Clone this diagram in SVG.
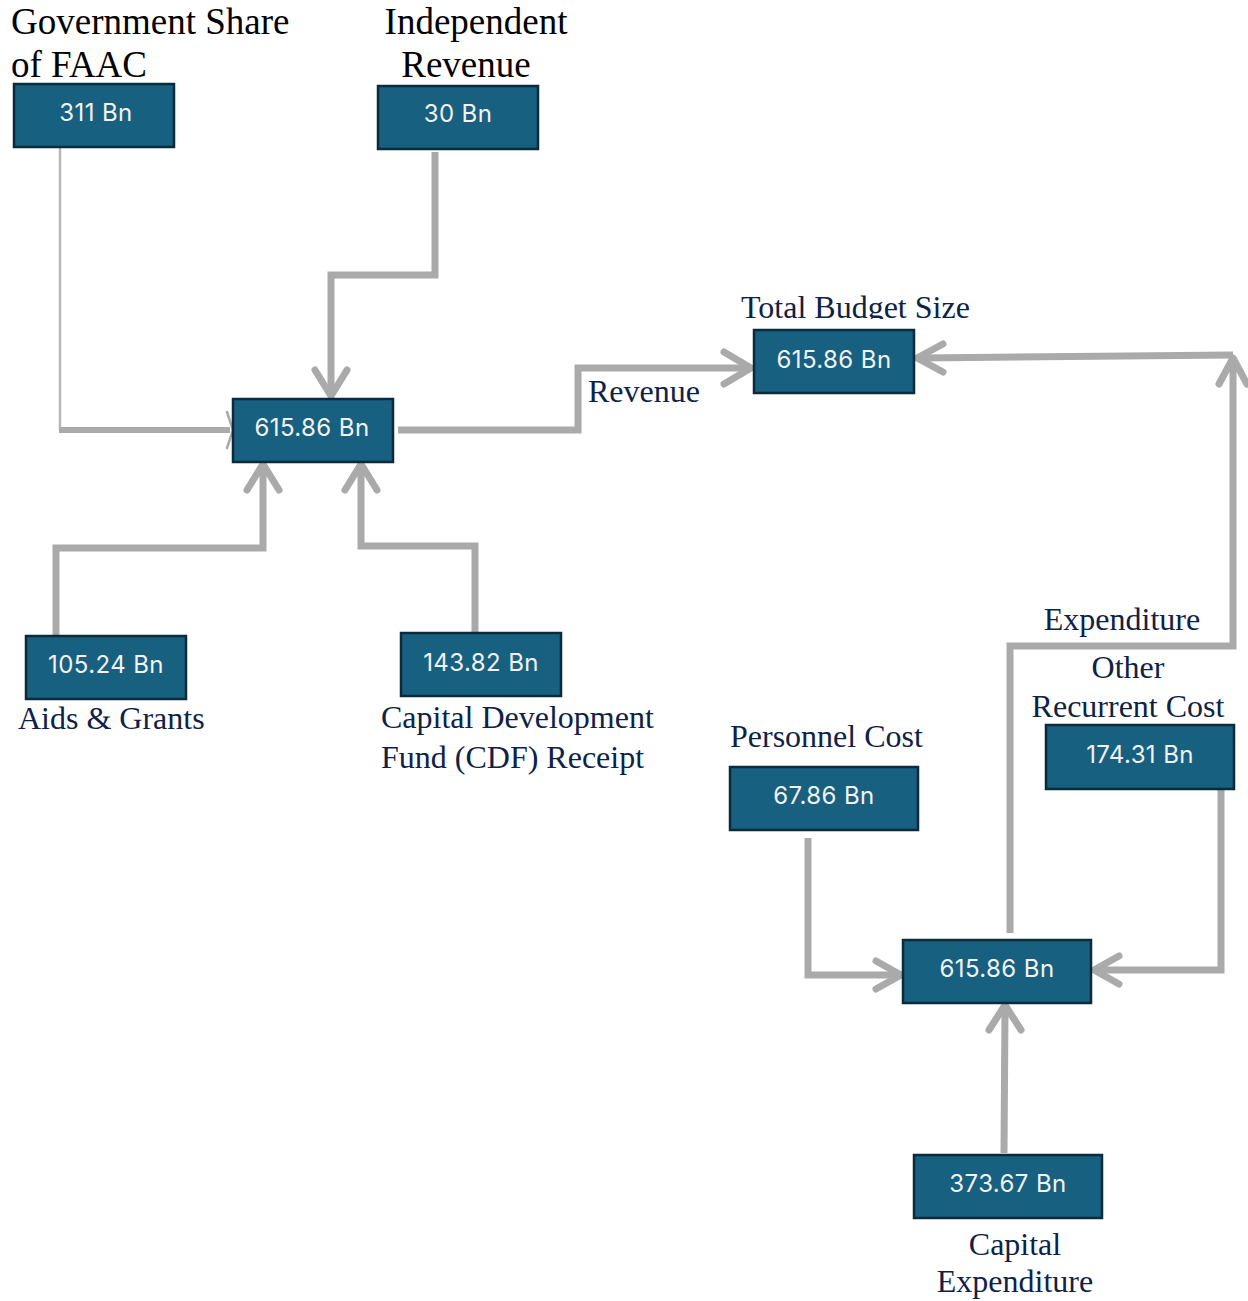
<svg xmlns="http://www.w3.org/2000/svg" width="1248" height="1301" viewBox="0 0 1248 1301">
<style>
.box{fill:#176080;stroke:#0B2A3C;stroke-width:2.5}
.val{font-family:Inter,"Liberation Sans",sans-serif;font-size:24px;letter-spacing:0.4px;fill:#F2F2F2;text-anchor:middle}
.lbl{font-family:"Liberation Serif",serif;font-size:32px;fill:#0E2248}
.top{font-family:"Liberation Serif",serif;font-size:37px;fill:#000}
.c{fill:none;stroke:#AAAAAA;stroke-width:7;stroke-linejoin:miter}
.ah{fill:none;stroke:#AAAAAA;stroke-width:7;stroke-linecap:round;stroke-linejoin:round}
</style>
<defs>
<clipPath id="clipTB"><rect x="700" y="280" width="300" height="39"/></clipPath>
</defs>
<g id="connectors">
<path d="M60,147 V430" fill="none" stroke="#B8B8B8" stroke-width="2.5"/>
<path d="M59,430 H230" fill="none" stroke="#AAAAAA" stroke-width="6"/>
<path d="M227,412 L233,430 L227,448" fill="none" stroke="#AAAAAA" stroke-width="2.5" stroke-linecap="round"/>
<path class="c" d="M435,152 V275 H331 V393"/>
<path class="ah" d="M315,370 L331,396 L347,370"/>
<path class="c" d="M398,430 H578 V368 H748"/>
<path class="ah" d="M724,352 L751,368 L724,384"/>
<path class="c" d="M56,636 V548 H263 V467"/>
<path class="ah" d="M247,490 L263,464 L279,490"/>
<path class="c" d="M475,632 V546 H361 V467"/>
<path class="ah" d="M345,490 L361,464 L377,490"/>
<path class="c" d="M1010,933 V646 H1233 V361"/>
<path class="ah" d="M1219,384 L1233,358 L1247,384"/>
<path class="c" d="M1233,355 L920,358"/>
<path class="ah" d="M943,344 L917,358 L943,372"/>
<path class="c" d="M808,838 V975 H899"/>
<path class="ah" d="M876,961 L901,975 L876,989"/>
<path class="c" d="M1221,790 V970 H1097"/>
<path class="ah" d="M1119,956 L1094,970 L1119,984"/>
<path class="c" d="M1004,1153 L1005,1008"/>
<path class="ah" d="M989,1030 L1005,1005 L1021,1030"/>
</g>
<g id="faac">
<rect class="box" x="14" y="84" width="160" height="63"/>
<text class="val" x="96" y="121">311 Bn</text>
<text class="top" x="11" y="34">Government Share</text>
<text class="top" x="11" y="77">of FAAC</text>
</g>
<g id="independent">
<rect class="box" x="378" y="86" width="160" height="63"/>
<text class="val" x="458" y="122">30 Bn</text>
<text class="top" x="476" y="34" text-anchor="middle">Independent</text>
<text class="top" x="466" y="77" text-anchor="middle">Revenue</text>
</g>
<g id="revenue-total">
<rect class="box" x="233" y="399" width="160" height="63"/>
<text class="val" x="312" y="436">615.86 Bn</text>
</g>
<g id="total-budget">
<rect class="box" x="754" y="330" width="160" height="63"/>
<text class="val" x="834" y="368">615.86 Bn</text>
<text class="lbl" x="741" y="318" clip-path="url(#clipTB)">Total Budget Size</text>
</g>
<g id="revenue-label">
<text class="lbl" x="588" y="402">Revenue</text>
</g>
<g id="aids">
<rect class="box" x="26" y="636" width="160" height="63"/>
<text class="val" x="106" y="673">105.24 Bn</text>
<text class="lbl" x="18" y="729">Aids &amp; Grants</text>
</g>
<g id="cdf">
<rect class="box" x="401" y="633" width="160" height="63"/>
<text class="val" x="481" y="671">143.82 Bn</text>
<text class="lbl" x="381" y="728">Capital Development</text>
<text class="lbl" x="381" y="768">Fund (CDF) Receipt</text>
</g>
<g id="personnel">
<rect class="box" x="730" y="767" width="188" height="63"/>
<text class="val" x="824" y="804">67.86 Bn</text>
<text class="lbl" x="730" y="747">Personnel Cost</text>
</g>
<g id="other-recurrent">
<rect class="box" x="1046" y="725" width="188" height="64"/>
<text class="val" x="1140" y="763">174.31 Bn</text>
<text class="lbl" x="1128" y="678" text-anchor="middle">Other</text>
<text class="lbl" x="1128" y="717" text-anchor="middle">Recurrent Cost</text>
</g>
<g id="expenditure-total">
<rect class="box" x="903" y="940" width="188" height="63"/>
<text class="val" x="997" y="977">615.86 Bn</text>
</g>
<g id="expenditure-label">
<text class="lbl" x="1122" y="630" text-anchor="middle">Expenditure</text>
</g>
<g id="capital">
<rect class="box" x="914" y="1155" width="188" height="63"/>
<text class="val" x="1008" y="1192">373.67 Bn</text>
<text class="lbl" x="1015" y="1255" text-anchor="middle">Capital</text>
<text class="lbl" x="1015" y="1292" text-anchor="middle">Expenditure</text>
</g>
</svg>
